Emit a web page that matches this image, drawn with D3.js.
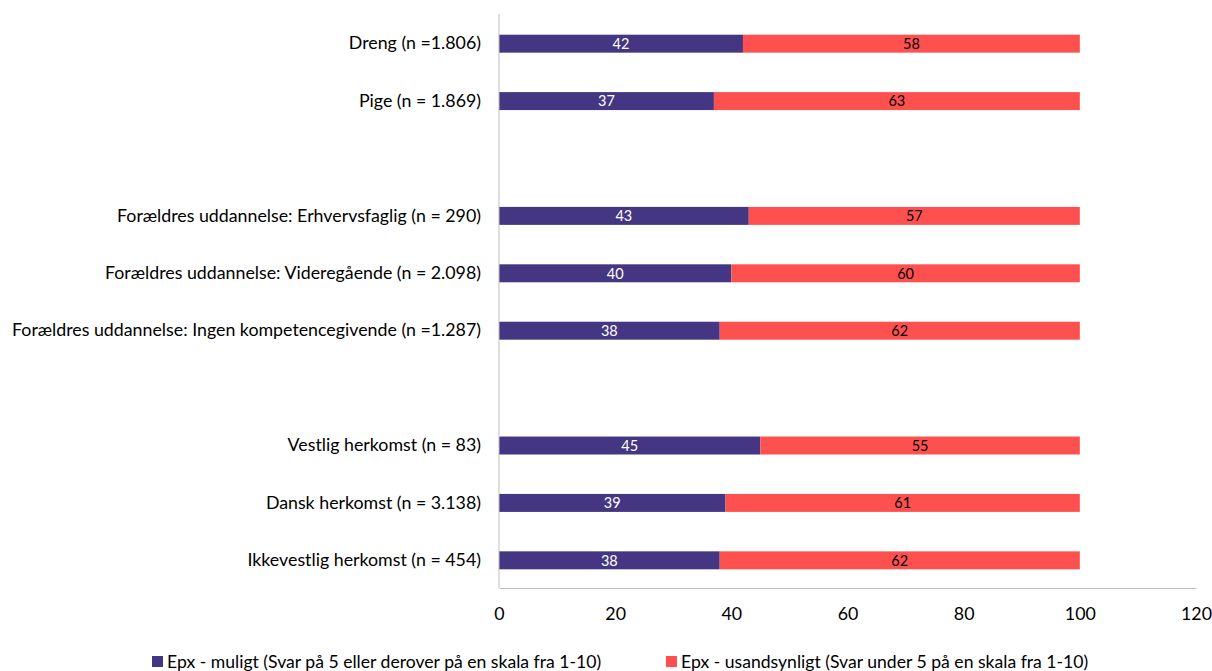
<!DOCTYPE html>
<html><head><meta charset="utf-8">
<script src="https://cdn.jsdelivr.net/npm/d3@7"></script>
<style>body{margin:0;background:#fff;} text{font-family:Lato,"Noto Sans",sans-serif;}</style>
</head><body>
<svg id="c" width="1212" height="671"></svg>
<script>
const categories = ["Dreng (n =1.806)","Pige (n = 1.869)","","Forældres uddannelse: Erhvervsfaglig (n = 290)","Forældres uddannelse: Videregående (n = 2.098)","Forældres uddannelse: Ingen kompetencegivende (n =1.287)"," ","Vestlig herkomst (n = 83)","Dansk herkomst (n = 3.138)","Ikkevestlig herkomst (n = 454)"];
const muligt = [42,37,null,43,40,38,null,45,39,38];
const usandsynligt = [58,63,null,57,60,62,null,55,61,62];
const seriesNames = ["Epx - muligt (Svar på 5 eller derover på en skala fra 1-10)","Epx - usandsynligt (Svar under 5 på en skala fra 1-10)"];
const xTicks = [0,20,40,60,80,100,120];
const colors = ["#443682","#ff5050"];

const svg = d3.select("#c");
const m = {l:499, r:1196, t:14, b:588};
const x = d3.scaleLinear().domain([0,120]).range([m.l,m.r]);
const y = d3.scaleBand().domain(categories).range([m.t+1,m.b+1]).paddingInner(0.687).paddingOuter(0.343);

const rows = categories.map((c,i)=>({c, a:muligt[i], b:usandsynligt[i]})).filter(d=>d.a!=null);

// bars
const g = svg.append("g");
rows.forEach(d=>{
  const segs=[{x0:0,x1:d.a,v:d.a,col:colors[0],tc:"#fff"},{x0:d.a,x1:d.a+d.b,v:d.b,col:colors[1],tc:"#000"}];
  segs.forEach(s=>{
    g.append("rect").attr("x",x(s.x0)).attr("width",x(s.x1)-x(s.x0))
      .attr("y",y(d.c)).attr("height",y.bandwidth()).attr("fill",s.col);
    g.append("text").attr("x",(x(s.x0)+x(s.x1))/2).attr("y",y(d.c)+y.bandwidth()/2)
      .attr("dy","0.36em").attr("text-anchor","middle").attr("font-size",14.5).attr("fill",s.tc).text(s.v);
  });
});

// axes
const yAxis = d3.axisLeft(y).tickSize(0).tickPadding(18);
const ya = svg.append("g").attr("transform",`translate(${m.l},0)`).call(yAxis);
ya.select(".domain").attr("stroke","#bfbfbf").attr("d",`M0,${m.t}V${m.b}`);
ya.selectAll("text").attr("font-size",17.8).attr("fill","#000").style("font-family","Lato");

const xAxis = d3.axisBottom(x).tickValues(xTicks).tickSize(0).tickPadding(19);
const xa = svg.append("g").attr("transform",`translate(0,${m.b})`).call(xAxis);
xa.select(".domain").attr("stroke","#bfbfbf");
xa.selectAll("text").attr("font-size",17.8).attr("fill","#000").style("font-family","Lato");

// legend
const leg = [{x:152},{x:666}];
seriesNames.forEach((n,i)=>{
  svg.append("rect").attr("x",leg[i].x).attr("y",656).attr("width",11).attr("height",11).attr("fill",colors[i]);
  svg.append("text").attr("x",leg[i].x+15).attr("y",661.5).attr("dy","0.36em").attr("font-size",17.6).text(n);
});
</script>
</body></html>
